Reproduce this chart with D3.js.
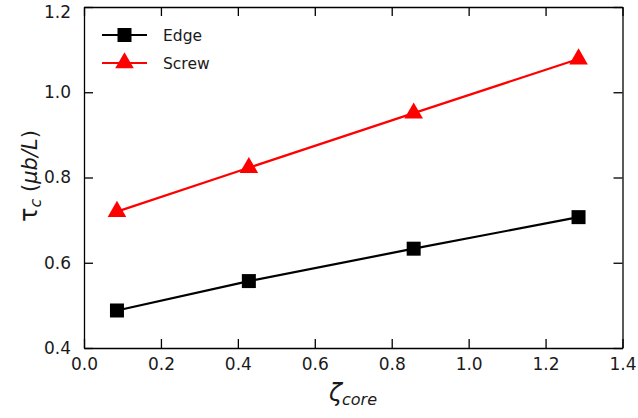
<!DOCTYPE html>
<html>
<head>
<meta charset="utf-8">
<script src="https://cdn.jsdelivr.net/npm/d3@7"></script>
<style>
body{margin:0;background:#fff;}
svg text{font-family:"DejaVu Sans",sans-serif;}
</style>
</head>
<body>
<svg id="chart" width="638" height="418"></svg>
<script>
const zeta = [0.0857, 0.4286, 0.8571, 1.2857];
const edge = [0.488, 0.557, 0.633, 0.707];
const screw = [0.720, 0.823, 0.951, 1.078];
const xTicks = [0.0, 0.2, 0.4, 0.6, 0.8, 1.0, 1.2, 1.4];
const yTicks = [0.4, 0.6, 0.8, 1.0, 1.2];
const seriesNames = ["Edge", "Screw"];

const svg = d3.select("#chart");
const L = 84, R = 622.5, T = 7, B = 348;
const x = d3.scaleLinear().domain([0, 1.4]).range([L, R]);
const y = d3.scaleLinear().domain([0.4, 1.2]).range([B, T]);

const fmt = d3.format(".1f");
const tl = 9;
const gB = svg.append("g").attr("transform", `translate(0,${B})`)
  .call(d3.axisBottom(x).tickValues(xTicks).tickFormat(fmt).tickSizeInner(-tl).tickSizeOuter(0).tickPadding(10));
const gT = svg.append("g").attr("transform", `translate(0,${T})`)
  .call(d3.axisTop(x).tickValues(xTicks).tickFormat("").tickSizeInner(-tl).tickSizeOuter(0));
const gL = svg.append("g").attr("transform", `translate(${L},0)`)
  .call(d3.axisLeft(y).tickValues(yTicks).tickFormat(fmt).tickSizeInner(-tl).tickSizeOuter(0).tickPadding(13));
const gR = svg.append("g").attr("transform", `translate(${R},0)`)
  .call(d3.axisRight(y).tickValues(yTicks).tickFormat("").tickSizeInner(-tl).tickSizeOuter(0));
[gB, gT, gL, gR].forEach(g => {
  g.attr("font-size", 17);
  g.select(".domain").attr("stroke", "#000").attr("stroke-width", 1.3);
  g.selectAll(".tick line").attr("stroke", "#000").attr("stroke-width", 1.3);
  g.selectAll(".tick text").attr("fill", "#1a1a1a").style("font-size", "17px");
});
// keep the top label inside the picture
gL.selectAll(".tick text").filter(d => d === 1.2).attr("dy", "0.6em");

const line = d3.line().x(d => x(d[0])).y(d => y(d[1]));
const edgeData = zeta.map((z, i) => [z, edge[i]]);
const screwData = zeta.map((z, i) => [z, screw[i]]);

svg.append("path").datum(edgeData).attr("d", line)
  .attr("fill", "none").attr("stroke", "#000").attr("stroke-width", 2.2);
svg.append("path").datum(screwData).attr("d", line)
  .attr("fill", "none").attr("stroke", "#ff0000").attr("stroke-width", 2.2);

const sq = d3.symbol().type(d3.symbolSquare).size(196);
const tri = d3.symbol().type(d3.symbolTriangle).size(150);

svg.selectAll(".sq").data(edgeData).enter().append("path")
  .attr("d", sq).attr("transform", d => `translate(${x(d[0])},${y(d[1])})`).attr("fill", "#000");
svg.selectAll(".tri").data(screwData).enter().append("path")
  .attr("d", tri).attr("transform", d => `translate(${x(d[0])},${y(d[1])})`).attr("fill", "#ff0000");

const leg = [{name: seriesNames[0], c: "#000", s: sq, yy: 35}, {name: seriesNames[1], c: "#ff0000", s: tri, yy: 63}];
leg.forEach(d => {
  svg.append("line").attr("x1", 102).attr("x2", 147).attr("y1", d.yy).attr("y2", d.yy)
    .attr("stroke", d.c).attr("stroke-width", 2.2);
  svg.append("path").attr("d", d.s).attr("transform", `translate(124.5,${d.yy})`).attr("fill", d.c);
  svg.append("text").attr("x", 163).attr("y", d.yy + 5.5).text(d.name)
    .style("font-size", "15.5px").attr("fill", "#1a1a1a");
});

const xl = svg.append("text").attr("x", 353).attr("y", 401).attr("text-anchor", "middle").attr("fill", "#1a1a1a");
xl.append("tspan").text("ζ").style("font-size", "24px").style("font-style", "italic");
xl.append("tspan").text("core").attr("dy", 4).style("font-size", "16px").style("font-style", "italic");

const yl = svg.append("text").attr("transform", "translate(37,176) rotate(-90)").attr("text-anchor", "middle").attr("fill", "#1a1a1a");
yl.append("tspan").text("τ").style("font-size", "24px");
yl.append("tspan").text("c").attr("dy", 4).style("font-size", "16px").style("font-style", "italic");
yl.append("tspan").text(" (").attr("dy", -4).style("font-size", "21px");
yl.append("tspan").text("μb/L").style("font-size", "21px").style("font-style", "italic");
yl.append("tspan").text(")").style("font-size", "21px");
</script>
</body>
</html>
